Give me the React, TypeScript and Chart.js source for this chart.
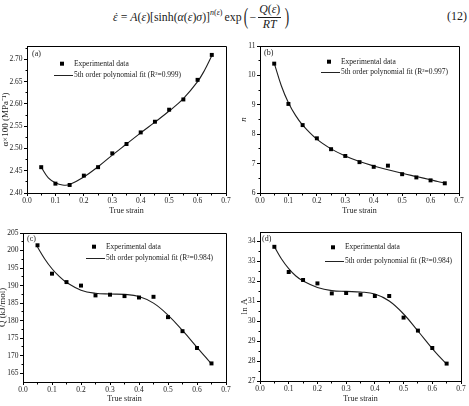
import React, { useEffect, useRef } from 'react';
import { Chart, registerables } from 'chart.js';

Chart.register(...registerables);

// ---- data -------------------------------------------------------------
const STRAIN = [0.05, 0.1, 0.15, 0.2, 0.25, 0.3, 0.35, 0.4, 0.45, 0.5, 0.55, 0.6, 0.65];
const FIT_STRAIN = [0.05, 0.075, 0.1, 0.125, 0.15, 0.2, 0.25, 0.3, 0.35, 0.4, 0.45, 0.5, 0.55, 0.6, 0.625, 0.65];

const ALPHA_EXP = [2.458, 2.421, 2.418, 2.439, 2.458, 2.489, 2.510, 2.536, 2.560, 2.587, 2.610, 2.654, 2.710];
const ALPHA_FIT = [2.458, 2.434, 2.423, 2.418, 2.419, 2.436, 2.459, 2.485, 2.510, 2.535, 2.559, 2.584, 2.612, 2.650, 2.676, 2.708];

const N_EXP = [10.40, 9.03, 8.31, 7.86, 7.49, 7.26, 7.05, 6.89, 6.93, 6.64, 6.53, 6.43, 6.33];
const N_FIT = [10.42, 9.65, 9.07, 8.64, 8.31, 7.83, 7.50, 7.26, 7.07, 6.92, 6.79, 6.67, 6.56, 6.45, 6.39, 6.34];

const Q_EXP = [201.5, 193.4, 191.0, 190.0, 187.2, 187.4, 187.0, 186.6, 186.8, 181.0, 177.0, 172.2, 167.8];
const Q_FIT = [201.0, 197.6, 194.8, 192.6, 190.9, 188.7, 187.8, 187.6, 187.5, 186.9, 185.0, 181.6, 177.2, 172.4, 170.0, 167.7];

const LNA_EXP = [33.71, 32.45, 32.05, 31.88, 31.38, 31.40, 31.32, 31.25, 31.25, 30.17, 29.52, 28.65, 27.87];
const LNA_FIT = [33.72, 33.10, 32.62, 32.25, 32.00, 31.68, 31.52, 31.48, 31.45, 31.35, 31.00, 30.35, 29.50, 28.62, 28.22, 27.85];

const X_TICKS = [0, 0.1, 0.2, 0.3, 0.4, 0.5, 0.6, 0.7];
const ALPHA_TICKS = [2.4, 2.45, 2.5, 2.55, 2.6, 2.65, 2.7];
const N_TICKS = [6, 7, 8, 9, 10, 11];
const Q_TICKS = [165, 170, 175, 180, 185, 190, 195, 200, 205];
const LNA_TICKS = [27, 28, 29, 30, 31, 32, 33, 34];

const SERIF = '"Liberation Serif", "Times New Roman", serif';
const INK = '#1a1a1a';

// ---- drawing helpers --------------------------------------------------
const align = (v: number) => Math.round(v - 0.5) + 0.5;

const panelDecor = {
  id: 'panelDecor',
  afterDraw(chart: any, _args: any, opts: any) {
    const { ctx, chartArea: ca } = chart;
    ctx.save();
    ctx.strokeStyle = '#000';
    ctx.lineWidth = 1;

    // closing frame on top and right
    ctx.beginPath();
    ctx.moveTo(align(ca.left), align(ca.top));
    ctx.lineTo(align(ca.right), align(ca.top));
    ctx.lineTo(align(ca.right), align(ca.bottom));
    ctx.stroke();

    // minor ticks halfway between the major ones
    const minor = (scale: any) => {
      const vals = scale.ticks.map((t: any) => t.value);
      const out: number[] = [];
      for (let i = 0; i < vals.length - 1; i++) out.push((vals[i] + vals[i + 1]) / 2);
      const step = vals[1] - vals[0];
      const after = vals[vals.length - 1] + step / 2;
      if (after <= scale.max + 1e-9) out.push(after);
      return out;
    };
    const xs = chart.scales.x;
    const ys = chart.scales.y;
    ctx.beginPath();
    for (const v of minor(xs)) {
      const px = align(xs.getPixelForValue(v));
      ctx.moveTo(px, align(ca.bottom));
      ctx.lineTo(px, align(ca.bottom) + 2);
    }
    for (const v of minor(ys)) {
      const py = align(ys.getPixelForValue(v));
      ctx.moveTo(align(ca.left), py);
      ctx.lineTo(align(ca.left) - 2, py);
    }
    ctx.stroke();

    // panel tag
    ctx.fillStyle = INK;
    ctx.textBaseline = 'middle';
    ctx.textAlign = 'left';
    ctx.font = `8px ${SERIF}`;
    ctx.fillText(opts.tag, ca.left + opts.tagX, ca.top + opts.tagY);

    // legend
    const lx = ca.left + opts.legX;
    const y1 = ca.top + opts.legY1;
    const y2 = ca.top + opts.legY2;
    ctx.fillStyle = '#000';
    ctx.fillRect(lx - 14, y1 - 2, 4, 4);
    ctx.beginPath();
    ctx.strokeStyle = '#222';
    ctx.moveTo(lx - 20, Math.round(y2) + 0.5);
    ctx.lineTo(lx - 1, Math.round(y2) + 0.5);
    ctx.stroke();
    ctx.fillStyle = INK;
    ctx.font = `7.5px ${SERIF}`;
    ctx.fillText('Experimental data', lx, y1);
    ctx.fillText(`5th order polynomial fit (R²=${opts.r2})`, lx, y2);
    ctx.restore();
  },
};

type PanelCfg = {
  left: number; top: number; width: number; height: number;
  padTop: number; padRight: number; yW: number; xH: number;
  yMin: number; yMax: number; yTicks: number[]; yDec: number;
  yTitle: string; yTitlePad: number; yTitleItalic?: boolean;
  xTitlePad: number;
  exp: number[]; fit: number[];
  decor: { tag: string; tagX: number; tagY: number; legX: number; legY1: number; legY2: number; r2: string };
};

function Panel({ cfg }: { cfg: PanelCfg }) {
  const ref = useRef<HTMLCanvasElement>(null);
  useEffect(() => {
    const tickFont = { family: SERIF, size: 7.5 };
    const chart = new Chart(ref.current as HTMLCanvasElement, {
      type: 'scatter',
      data: {
        datasets: [
          {
            label: 'Experimental data',
            data: STRAIN.map((x, i) => ({ x, y: cfg.exp[i] })),
            pointStyle: 'rect',
            pointRadius: 2.8,
            backgroundColor: '#000',
            borderColor: '#000',
            borderWidth: 0,
            showLine: false,
          },
          {
            label: '5th order polynomial fit',
            data: FIT_STRAIN.map((x, i) => ({ x, y: cfg.fit[i] })),
            showLine: true,
            pointRadius: 0,
            borderColor: '#1e1e1e',
            borderWidth: 1.1,
            tension: 0.4,
            fill: false,
          },
        ],
      },
      options: {
        responsive: false,
        animation: false,
        devicePixelRatio: 1,
        layout: { padding: { top: cfg.padTop, right: cfg.padRight, left: 0, bottom: 0 } },
        plugins: {
          legend: { display: false },
          tooltip: { enabled: false },
          panelDecor: cfg.decor,
        } as any,
        scales: {
          x: {
            type: 'linear',
            min: 0,
            max: 0.7,
            afterBuildTicks: (s: any) => { s.ticks = X_TICKS.map((v) => ({ value: v })); },
            afterFit: (s: any) => { s.height = cfg.xH; },
            ticks: {
              font: tickFont, color: INK, padding: 1, maxRotation: 0, autoSkip: false,
              callback: (v: any) => Number(v).toFixed(1),
            },
            grid: { drawOnChartArea: false, tickLength: 3, tickColor: '#000' },
            border: { color: '#000', width: 1 },
            title: { display: true, text: 'True strain', color: INK, font: { family: SERIF, size: 8 }, padding: { top: 0, bottom: cfg.xTitlePad } },
          },
          y: {
            type: 'linear',
            min: cfg.yMin,
            max: cfg.yMax,
            afterBuildTicks: (s: any) => { s.ticks = cfg.yTicks.map((v) => ({ value: v })); },
            afterFit: (s: any) => { s.width = cfg.yW; },
            ticks: {
              font: tickFont, color: INK, padding: 1.5, autoSkip: false,
              callback: (v: any) => Number(v).toFixed(cfg.yDec),
            },
            grid: { drawOnChartArea: false, tickLength: 3, tickColor: '#000' },
            border: { color: '#000', width: 1 },
            title: {
              display: true, text: cfg.yTitle, color: INK,
              font: { family: SERIF, size: 9, style: cfg.yTitleItalic ? 'italic' : 'normal' },
              padding: { top: cfg.yTitlePad, bottom: 0 },
            },
          },
        },
      } as any,
      plugins: [panelDecor],
    });
    return () => chart.destroy();
  }, []);
  return (
    <canvas
      ref={ref}
      width={cfg.width}
      height={cfg.height}
      style={{ position: 'absolute', left: cfg.left, top: cfg.top, width: cfg.width, height: cfg.height }}
    />
  );
}

const PANELS: PanelCfg[] = [
  {
    left: 0, top: 40, width: 234, height: 178, padTop: 6, padRight: 8, yW: 27, xH: 25,
    yMin: 2.4, yMax: 2.73, yTicks: ALPHA_TICKS, yDec: 2,
    yTitle: 'α×100 (MPa⁻¹)', yTitlePad: 0, xTitlePad: 2,
    exp: ALPHA_EXP, fit: ALPHA_FIT,
    decor: { tag: '(a)', tagX: 5, tagY: 8, legX: 47, legY1: 17.7, legY2: 28.7, r2: '0.999' },
  },
  {
    left: 234, top: 40, width: 235, height: 178, padTop: 6, padRight: 10, yW: 26, xH: 25,
    yMin: 6, yMax: 11, yTicks: N_TICKS, yDec: 0,
    yTitle: 'n', yTitleItalic: true, yTitlePad: 4, xTitlePad: 2,
    exp: N_EXP, fit: N_FIT,
    decor: { tag: '(b)', tagX: 4, tagY: 7, legX: 81, legY1: 15.7, legY2: 26.3, r2: '0.997' },
  },
  {
    left: -3, top: 226, width: 237, height: 180, padTop: 7, padRight: 8, yW: 26, xH: 24,
    yMin: 162.5, yMax: 205, yTicks: Q_TICKS, yDec: 0,
    yTitle: 'Q (kJ/mol)', yTitlePad: 0, xTitlePad: 2,
    exp: Q_EXP, fit: Q_FIT,
    decor: { tag: '(c)', tagX: 4, tagY: 6, legX: 83, legY1: 13.7, legY2: 24.7, r2: '0.984' },
  },
  {
    left: 234, top: 226, width: 235, height: 180, padTop: 6, padRight: 8, yW: 26, xH: 25,
    yMin: 27, yMax: 34.45, yTicks: LNA_TICKS, yDec: 0,
    yTitle: 'ln A', yTitlePad: 5, xTitlePad: 2,
    exp: LNA_EXP, fit: LNA_FIT,
    decor: { tag: '(d)', tagX: 2, tagY: 7, legX: 85, legY1: 15.3, legY2: 28.7, r2: '0.984' },
  },
];

function Equation() {
  const it = { fontStyle: 'italic' as const };
  const bigParen = { fontSize: 24, lineHeight: 1, display: 'inline-block', transform: 'scaleX(0.55)', marginBottom: 2 } as const;
  return (
    <>
      <div
        style={{
          position: 'absolute', left: 113, top: 2, height: 30, display: 'flex', alignItems: 'center',
          fontFamily: SERIF, fontSize: 11.8, color: INK, whiteSpace: 'nowrap',
        }}
      >
        <span style={{ position: 'relative', ...it }}>
          ε
          <span style={{ position: 'absolute', left: 1.5, top: 0, fontStyle: 'normal' }}>˙</span>
        </span>
        <span style={{ margin: '0 3px' }}>=</span>
        <span style={it}>A</span>(<span style={it}>ε</span>)[sinh(<span style={it}>α</span>(<span style={it}>ε</span>)<span style={it}>σ</span>)]
        <span style={{ fontSize: 8, alignSelf: 'flex-start', marginTop: 6 }}>
          <span style={it}>n</span>(<span style={it}>ε</span>)
        </span>
        <span style={{ marginLeft: 2 }}>exp</span>
        <span style={bigParen}>(</span>
        <span>−</span>
        <span style={{ display: 'inline-flex', flexDirection: 'column', alignItems: 'center', margin: '0 2px' }}>
          <span style={{ borderBottom: `1px solid ${INK}`, padding: '0 1px', lineHeight: 1.15 }}>
            <span style={it}>Q</span>(<span style={it}>ε</span>)
          </span>
          <span style={{ lineHeight: 1.15, ...it }}>RT</span>
        </span>
        <span style={bigParen}>)</span>
      </div>
      <div style={{ position: 'absolute', left: 447, top: 9, fontFamily: SERIF, fontSize: 12, color: INK }}>(12)</div>
    </>
  );
}

export default function App() {
  return (
    <div style={{ position: 'absolute', left: 0, top: 0, width: 469, height: 406, background: '#fff', overflow: 'hidden' }}>
      <Equation />
      {PANELS.map((p, i) => (
        <Panel key={i} cfg={p} />
      ))}
    </div>
  );
}
